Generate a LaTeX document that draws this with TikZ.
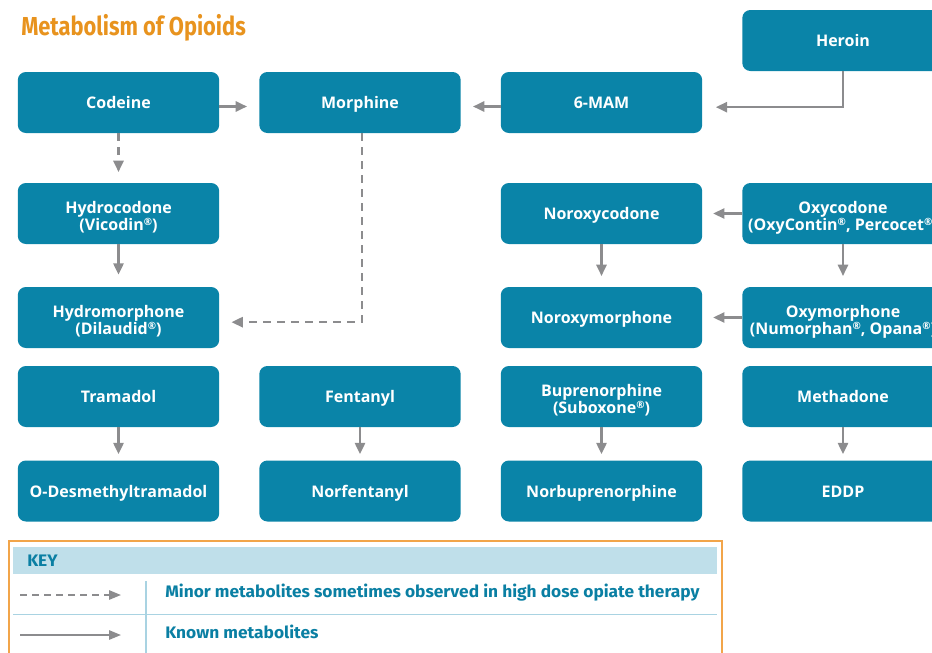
\documentclass[tikz,border=0pt]{standalone}
\usepackage{fontspec}
\usetikzlibrary{arrows.meta}
\newfontfamily\boxfont{Open Sans}
\newfontfamily\titlefont[FakeStretch=0.84]{Fira Sans}
\newfontfamily\keyfont[FakeStretch=1.04]{Fira Sans}
\definecolor{boxteal}{HTML}{0A84A8}
\definecolor{arrgray}{HTML}{8C8C8E}
\definecolor{keyteal}{HTML}{0A7FA3}
\definecolor{keyhead}{HTML}{BFDFEA}
\definecolor{keyline}{HTML}{A9D3E2}
\definecolor{orangeb}{HTML}{F2A54A}
\definecolor{titleor}{HTML}{E8931E}
\newcommand{\reg}{\raisebox{0.6ex}{\fontsize{7.5}{7.5}\selectfont ®}}
\newcommand{\twolines}[2]{\rule{0pt}{15.5pt}#1\\#2}
\tikzset{
  drug/.style={draw=none, fill=boxteal, rounded corners=6pt, minimum width=151pt, minimum height=45.75pt,
    inner sep=0pt, text=white, align=center, font=\boxfont\bfseries\fontsize{12}{12.6}\selectfont,
    execute at begin node={\rule{0pt}{12pt}}, execute at end node={\vphantom{y}}},
  arr/.style={draw=arrgray, line width=1.9pt, -{Triangle[length=8.5pt,width=7.5pt]}},
  darr/.style={arr, dash pattern=on 6pt off 4.5pt},
  keytxt/.style={text=keyteal, anchor=west, inner sep=0pt, font=\keyfont\bfseries\fontsize{12.5}{13}\selectfont}
}
\begin{document}
\begin{tikzpicture}[x=0.75pt,y=-0.75pt]
\useasboundingbox (0,0) rectangle (932,653);
\clip (0,0) rectangle (932,653);
% title
\node[anchor=west, inner sep=0pt, text=titleor, font=\titlefont\bfseries\fontsize{19.5}{20}\selectfont] (title) at (21,28) {Metabolism of Opioids};
% boxes
\node[drug] (heroin) at (843,40.5) {Heroin};
\node[drug] (codeine) at (118.5,102.5) {Codeine};
\node[drug] (morphine) at (360,102.5) {Morphine};
\node[drug] (mam) at (601.5,102.5) {6-MAM};
\node[drug] (hydrocodone) at (118.5,213.5) {\twolines{Hydrocodone}{(Vicodin\reg)}};
\node[drug] (noroxycodone) at (601.5,213.5) {Noroxycodone};
\node[drug] (oxycodone) at (843,213.5) {\twolines{Oxycodone}{(OxyContin\reg, Percocet\reg)}};
\node[drug] (hydromorphone) at (118.5,317.5) {\twolines{Hydromorphone}{(Dilaudid\reg)}};
\node[drug] (noroxymorphone) at (601.5,317.5) {Noroxymorphone};
\node[drug] (oxymorphone) at (843,317.5) {\twolines{Oxymorphone}{(Numorphan\reg, Opana\reg)}};
\node[drug] (tramadol) at (118.5,396.5) {Tramadol};
\node[drug] (fentanyl) at (360,396.5) {Fentanyl};
\node[drug] (bup) at (601.5,396.5) {\twolines{Buprenorphine}{(Suboxone\reg)}};
\node[drug] (methadone) at (843,396.5) {Methadone};
\node[drug] (odes) at (118.5,491) {O-Desmethyltramadol};
\node[drug] (norfentanyl) at (360,491) {Norfentanyl};
\node[drug] (norbup) at (601.5,491) {Norbuprenorphine};
\node[drug] (eddp) at (843,491) {EDDP};
% connectors
\draw[arr, shorten >=9pt] ([yshift=-3pt]codeine.east) -- ([yshift=-3pt]morphine.west);
\draw[arr, shorten >=9pt] ([yshift=-3pt]mam.west) -- ([yshift=-3pt]morphine.east);
\draw[arr, shorten >=10pt] (heroin.south) |- ([yshift=-3.5pt]mam.east);
\draw[darr, shorten >=8pt] (codeine.south) -- (hydrocodone.north);
\draw[arr, shorten >=9pt] (hydrocodone.south) -- (hydromorphone.north);
\draw[darr, shorten >=9pt] ([xshift=1.5pt]morphine.south) |- ([yshift=-3.5pt]hydromorphone.east);
\draw[arr, shorten >=8pt] (oxycodone.west) -- (noroxycodone.east);
\draw[arr, shorten >=8pt] (oxycodone.south) -- (oxymorphone.north);
\draw[arr, shorten >=8pt] (noroxycodone.south) -- (noroxymorphone.north);
\draw[arr, shorten >=8pt] (oxymorphone.west) -- (noroxymorphone.east);
\draw[arr, shorten >=4.5pt] (tramadol.south) -- (odes.north);
\draw[arr, shorten >=4.5pt] (fentanyl.south) -- (norfentanyl.north);
\draw[arr, shorten >=4.5pt] (bup.south) -- (norbup.north);
\draw[arr, shorten >=4.5pt] (methadone.south) -- (eddp.north);
% key
\draw[orangeb, line width=1pt] (9,541) rectangle (722,680);
\fill[keyhead] (13,547) rectangle (717,574);
\node[keytxt] (keylabel) at (27,561) {KEY};
\draw[keyline, line width=1.2pt] (13,614.5) -- (717,614.5);
\draw[keyline, line width=1pt] (146,581) -- (146,660);
\coordinate (d1) at (20,595);
\coordinate (d2) at (121,595);
\coordinate (s1) at (20,635);
\coordinate (s2) at (121,635);
\draw[arrgray, line width=1.4pt, dash pattern=on 5pt off 4pt, -{Triangle[length=9pt,width=7pt]}] (d1) -- (d2);
\draw[arrgray, line width=1.4pt, -{Triangle[length=9pt,width=7pt]}] (s1) -- (s2);
\node[keytxt] (minor) at (165,593) {Minor metabolites sometimes observed in high dose opiate therapy};
\node[keytxt] (known) at (165,632) {Known metabolites};
\end{tikzpicture}
\end{document}
